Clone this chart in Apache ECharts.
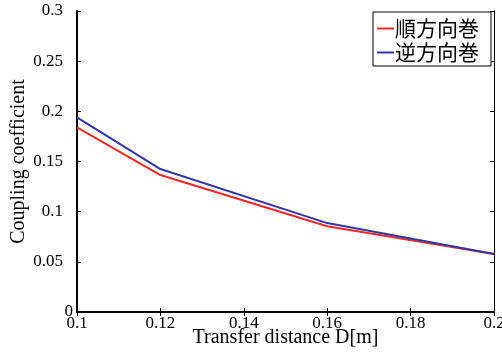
<!DOCTYPE html>
<html><head><meta charset="utf-8">
<script src="https://cdn.jsdelivr.net/npm/echarts@6/dist/echarts.min.js"></script>
<style>html,body{margin:0;padding:0;background:#fff}#c{width:502px;height:353px}</style>
</head><body><div id="c"></div>
<script>
const distances = [0.1, 0.12, 0.16, 0.2];
const forwardWinding = [0.184, 0.1365, 0.0855, 0.0577];
const reverseWinding = [0.194, 0.1425, 0.0886, 0.0577];
const seriesNames = ['順方向巻', '逆方向巻'];
const xTitle = 'Transfer distance D[m]';
const yTitle = 'Coupling coefficient';

const fmt = v => String(parseFloat(v.toFixed(4)));
const serif = "'Liberation Serif', 'Times New Roman', serif";
const chart = echarts.init(document.getElementById('c'));
chart.setOption({
  animation: false,
  backgroundColor: '#fff',
  grid: {left: 77, right: 8, top: 11, bottom: 41, containLabel: false, outerBoundsMode: 'none'},
  legend: {
    orient: 'vertical', right: 11, top: 12,
    padding: [6, 12, 3, 4], itemGap: 3,
    borderColor: '#000', borderWidth: 1, backgroundColor: '#fff', borderRadius: 0,
    itemWidth: 17, itemHeight: 2,
    icon: 'rect',
    textStyle: {fontFamily: 'Noto Sans CJK JP', fontSize: 21, color: '#000', padding: [0,0,0,-4]},
    data: seriesNames
  },
  xAxis: [{
    type: 'value', min: 0.1, max: 0.2, interval: 0.02,
    name: xTitle, nameLocation: 'middle', nameGap: 16, nameMoveOverlap: false,
    nameTextStyle: {fontFamily: serif, fontSize: 20, color: '#000'},
    axisLine: {show: true, onZero: false, lineStyle: {color: '#000', width: 2}},
    axisTick: {inside: true, length: 4, lineStyle: {color: '#000'}},
    axisLabel: {fontFamily: serif, fontSize: 17, color: '#000', margin: 3, formatter: fmt, showMaxLabel: true, hideOverlap: false},
    splitLine: {show: false}
  }, {
    type: 'value', position: 'top', min: 0.1, max: 0.2, interval: 0.02,
    axisLine: {show: true, lineStyle: {color: '#000', width: 1}},
    axisTick: {inside: true, length: 4, lineStyle: {color: '#000'}},
    axisLabel: {show: false}, splitLine: {show: false}
  }],
  yAxis: [{
    type: 'value', min: 0, max: 0.3, interval: 0.05,
    name: yTitle, nameLocation: 'middle', nameGap: 48, nameRotate: 90, nameMoveOverlap: false,
    nameTextStyle: {fontFamily: serif, fontSize: 20, color: '#000'},
    axisLine: {show: true, lineStyle: {color: '#000', width: 2}},
    axisTick: {inside: true, length: 4, lineStyle: {color: '#000'}},
    axisLabel: {
      fontFamily: serif, fontSize: 17, color: '#000', margin: 4, hideOverlap: false,
      formatter: v => v === 0 ? '0' : '{p|' + fmt(v) + '}',
      rich: {p: {fontFamily: serif, fontSize: 17, color: '#000', padding: [0, 10, 0, 0]}}
    },
    splitLine: {show: false}
  }, {
    type: 'value', position: 'right', min: 0, max: 0.3, interval: 0.05,
    axisLine: {show: true, lineStyle: {color: '#000', width: 1}},
    axisTick: {inside: true, length: 4, lineStyle: {color: '#000'}},
    axisLabel: {show: false}, splitLine: {show: false}
  }],
  series: [{
    name: seriesNames[0], type: 'line', showSymbol: false, symbol: 'none',
    color: '#ee2a2a', lineStyle: {width: 2},
    data: distances.map((d, i) => [d, forwardWinding[i]])
  }, {
    name: seriesNames[1], type: 'line', showSymbol: false, symbol: 'none',
    color: '#3535a0', lineStyle: {width: 2},
    data: distances.map((d, i) => [d, reverseWinding[i]])
  }]
});
</script></body></html>
